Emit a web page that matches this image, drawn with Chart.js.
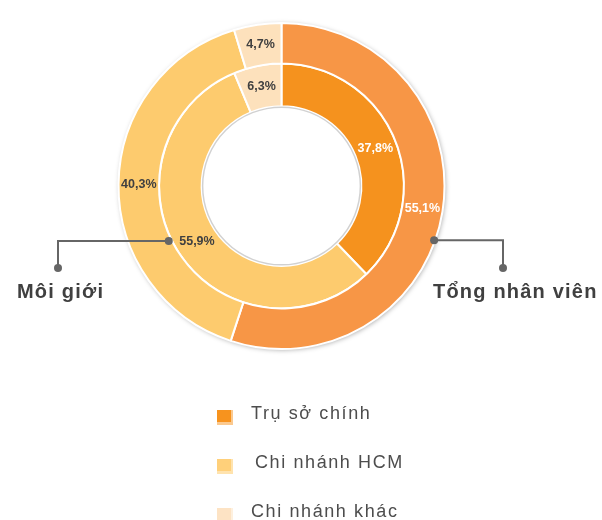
<!DOCTYPE html>
<html>
<head>
<meta charset="utf-8">
<script src="https://cdn.jsdelivr.net/npm/chart.js@4.4.1/dist/chart.umd.min.js"></script>
<style>
  body { margin: 0; background: #fff; }
</style>
</head>
<body>
<canvas id="ringChart" width="602" height="520"></canvas>
<script>
const categories = ["Trụ sở chính", "Chi nhánh HCM", "Chi nhánh khác"];
const tongNhanVien = [55.1, 40.3, 4.7]; // outer ring
const moiGioi = [37.8, 55.9, 6.3]; // inner ring
const ringNames = ["Tổng nhân viên", "Môi giới"];

const outerColors = ["#F79646", "#FDCB6E", "#FDE1BC"];
const innerColors = ["#F5921E", "#FDCB6E", "#FDE1BC"];
const legendColors = ["#F7931E", "#FFD07A", "#FDE3C4"];
const legendLight = ["#FBC98F", "#FFE3AE", "#FEF0DE"];

const fmt = (v) => v.toFixed(1).replace(".", ",") + "%";

// white disc with soft shadow behind the rings
const ringShadow = {
  id: "ringShadow",
  beforeDatasetsDraw(chart) {
    const arc = chart.getDatasetMeta(0).data[0];
    const ctx = chart.ctx;
    ctx.save();
    ctx.shadowColor = "rgba(0,0,0,0.35)";
    ctx.shadowBlur = 5;
    ctx.shadowOffsetX = 1;
    ctx.shadowOffsetY = 1;
    ctx.fillStyle = "#fff";
    ctx.beginPath();
    ctx.arc(arc.x, arc.y, arc.outerRadius, 0, Math.PI * 2);
    ctx.fill();
    ctx.restore();
  },
  afterDatasetsDraw(chart) {
    const arc = chart.getDatasetMeta(1).data[0];
    const ctx = chart.ctx;
    ctx.save();
    ctx.strokeStyle = "rgba(0,0,0,0.18)";
    ctx.lineWidth = 1.5;
    ctx.beginPath();
    ctx.arc(arc.x, arc.y, arc.innerRadius - 1, 0, Math.PI * 2);
    ctx.stroke();
    ctx.restore();
  },
};

// percentage labels in the middle of each slice
const sliceLabels = {
  id: "sliceLabels",
  afterDatasetsDraw(chart) {
    const ctx = chart.ctx;
    ctx.save();
    ctx.font = "bold 12.5px 'Liberation Sans', Arial, sans-serif";
    ctx.textAlign = "center";
    ctx.textBaseline = "middle";
    chart.data.datasets.forEach((ds, di) => {
      chart.getDatasetMeta(di).data.forEach((arc, i) => {
        const p = arc.tooltipPosition();
        ctx.fillStyle = i === 0 ? "#ffffff" : "#404040";
        ctx.fillText(fmt(ds.data[i]), p.x, p.y);
      });
    });
    ctx.restore();
  },
};

// callouts naming each ring + legend list under the chart
const annotations = {
  id: "annotations",
  afterDraw(chart) {
    const ctx = chart.ctx;
    const outer = chart.getDatasetMeta(0).data[0];
    const inner = chart.getDatasetMeta(1).data[0];
    const cx = outer.x, cy = outer.y;

    const callouts = [
      { r: outer.outerRadius - 1, deg: 109.6, elbowX: 503, textX: 433 },
      { r: inner.outerRadius + 3, deg: 244, elbowX: 58, textX: 17 },
    ];
    ctx.save();
    ctx.strokeStyle = "#666666";
    ctx.fillStyle = "#666666";
    ctx.lineWidth = 2;
    callouts.forEach((c) => {
      const a = (c.deg - 90) * Math.PI / 180;
      const x0 = cx + c.r * Math.cos(a);
      const y0 = cy + c.r * Math.sin(a);
      ctx.beginPath();
      ctx.moveTo(x0, y0);
      ctx.lineTo(c.elbowX, y0);
      ctx.lineTo(c.elbowX, 268);
      ctx.stroke();
      [[x0, y0], [c.elbowX, 268]].forEach(([x, y]) => {
        ctx.beginPath();
        ctx.arc(x, y, 4, 0, Math.PI * 2);
        ctx.fill();
      });
    });
    ctx.fillStyle = "#404040";
    ctx.font = "bold 20px 'Liberation Sans', Arial, sans-serif";
    ctx.letterSpacing = "1.2px";
    ctx.textBaseline = "alphabetic";
    ctx.textAlign = "left";
    ctx.fillText(ringNames[0], callouts[0].textX, 298);
    ctx.fillText(ringNames[1], callouts[1].textX, 298);

    // legend
    ctx.font = "18px 'Liberation Sans', Arial, sans-serif";
    ctx.letterSpacing = "1.6px";
    ctx.textBaseline = "middle";
    categories.forEach((name, i) => {
      const y = 416 + i * 49;
      ctx.fillStyle = legendLight[i];
      ctx.fillRect(217, y - 6, 16, 15);
      ctx.fillStyle = legendColors[i];
      ctx.fillRect(217, y - 6, 14, 12);
      ctx.fillStyle = "#4d4d4d";
      ctx.fillText(name, i === 1 ? 255 : 251, y - 2);
    });
    ctx.restore();
  },
};

new Chart(document.getElementById("ringChart"), {
  type: "doughnut",
  data: {
    labels: categories,
    datasets: [
      {
        label: ringNames[0],
        data: tongNhanVien,
        backgroundColor: outerColors,
        borderColor: "#ffffff",
        borderWidth: 2,
        weight: 40,
      },
      {
        label: ringNames[1],
        data: moiGioi,
        backgroundColor: innerColors,
        borderColor: "#ffffff",
        borderWidth: 2,
        weight: 42,
      },
    ],
  },
  options: {
    responsive: false,
    animation: false,
    cutout: "49%",
    layout: { padding: { left: 117, right: 156, top: 22, bottom: 170 } },
    plugins: {
      legend: { display: false },
      tooltip: { enabled: false },
    },
  },
  plugins: [ringShadow, sliceLabels, annotations],
});
</script>
</body>
</html>
